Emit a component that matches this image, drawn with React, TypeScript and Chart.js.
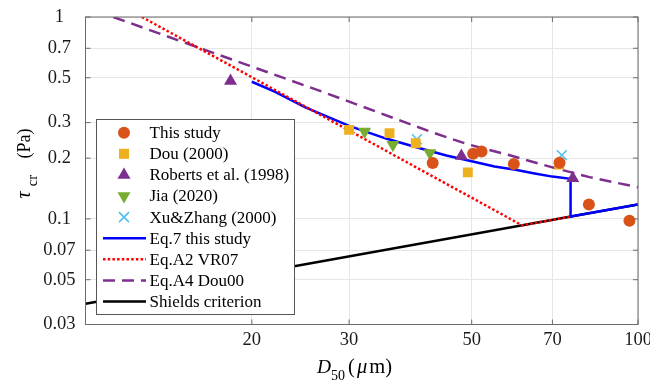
import React, { useEffect, useRef } from "react";
import { Chart, registerables } from "chart.js";

Chart.register(...registerables);

// ---------------- data ----------------
const xTicks = [20, 30, 50, 70, 100];
const yTicks = [0.03, 0.05, 0.07, 0.1, 0.2, 0.3, 0.5, 0.7, 1];

const thisStudyD = [42.5, 50.3, 52.1, 59.6, 72.1, 81.5, 96.5];
const thisStudyTau = [0.189, 0.21, 0.216, 0.187, 0.19, 0.118, 0.098];

const douD = [30.0, 35.5, 39.6, 49.2, 72.0];
const douTau = [0.276, 0.266, 0.237, 0.17, 0.186];

const robertsD = [18.3, 47.9, 76.2];
const robertsTau = [0.482, 0.205, 0.159];

const jiaD = [32.0, 36.0, 42.0];
const jiaTau = [0.271, 0.233, 0.212];

const xuD = [39.8, 72.8];
const xuTau = [0.248, 0.207];

const eq7D = [20, 22, 25, 30, 35, 40, 45, 50, 55, 60, 65, 70, 75.5, 75.5, 100];
const eq7Tau = [0.478, 0.427, 0.357, 0.289, 0.25, 0.225, 0.206, 0.193, 0.182, 0.175, 0.168, 0.162, 0.158, 0.1027, 0.118];

const vr07D = [12.65, 61.7, 75.5];
const vr07Tau = [1.0, 0.0929, 0.1027];

const dou00D = [11.23, 15.24, 27.31, 42.5, 49.0, 58.8, 69.2, 81.7, 100];
const dou00Tau = [1.0, 0.741, 0.419, 0.268, 0.235, 0.206, 0.1815, 0.161, 0.1435];

const shieldsD = [10, 100];
const shieldsTau = [0.038, 0.118];

const legendLabels = [
  "This study",
  "Dou (2000)",
  "Roberts et al. (1998)",
  "Jia (2020)",
  "Xu&Zhang (2000)",
  "Eq.7 this study",
  "Eq.A2 VR07",
  "Eq.A4 Dou00",
  "Shields criterion",
];

// ---------------- styles ----------------
const FONT = '"Liberation Serif", "Times New Roman", serif';
const ORANGE = "#D95319";
const YELLOW = "#EDB120";
const PURPLE = "#7E2F8E";
const GREEN = "#77AC30";
const CYAN = "#4DBEEE";
const BLUE = "#0000FF";
const RED = "#FF0000";
const BLACK = "#000000";

function pts(xs: number[], ys: number[]) {
  return xs.map((x, i) => ({ x, y: ys[i] }));
}

function fnt(size: number, italic = false) {
  return `${italic ? "italic " : ""}${size}px ${FONT}`;
}

// draw a text piece at absolute position along a baseline
function put(ctx: CanvasRenderingContext2D, t: string, x: number, y: number, size: number, italic = false, align: CanvasTextAlign = "left") {
  ctx.font = fnt(size, italic);
  ctx.textAlign = align;
  ctx.textBaseline = "alphabetic";
  ctx.fillText(t, x, y);
  return ctx.measureText(t).width;
}

function drawMarker(ctx: CanvasRenderingContext2D, kind: string, x: number, y: number, color: string) {
  ctx.save();
  ctx.fillStyle = color;
  ctx.strokeStyle = color;
  ctx.beginPath();
  if (kind === "circle") {
    ctx.arc(x, y, 6, 0, Math.PI * 2);
    ctx.fill();
  } else if (kind === "rect") {
    ctx.fillRect(x - 5, y - 5, 10, 10);
  } else if (kind === "triangle") {
    const r = 7.5;
    ctx.moveTo(x, y - r);
    ctx.lineTo(x + 0.866 * r, y + 0.5 * r);
    ctx.lineTo(x - 0.866 * r, y + 0.5 * r);
    ctx.closePath();
    ctx.fill();
  } else if (kind === "triangleDown") {
    const r = 7.5;
    ctx.moveTo(x, y + r);
    ctx.lineTo(x + 0.866 * r, y - 0.5 * r);
    ctx.lineTo(x - 0.866 * r, y - 0.5 * r);
    ctx.closePath();
    ctx.fill();
  } else if (kind === "cross") {
    ctx.lineWidth = 1.5;
    ctx.moveTo(x - 5, y - 5);
    ctx.lineTo(x + 5, y + 5);
    ctx.moveTo(x + 5, y - 5);
    ctx.lineTo(x - 5, y + 5);
    ctx.stroke();
  }
  ctx.restore();
}

const decorPlugin = {
  id: "decor",
  afterDraw(chart: any) {
    const { ctx, chartArea: a, scales } = chart;
    ctx.save();
    // frame
    ctx.strokeStyle = "#6b6b6b";
    ctx.lineWidth = 1;
    ctx.strokeRect(a.left, a.top, a.right - a.left, a.bottom - a.top);
    // inside ticks
    const tl = 5;
    ctx.beginPath();
    xTicks.forEach((v) => {
      const px = scales.x.getPixelForValue(v);
      ctx.moveTo(px, a.bottom);
      ctx.lineTo(px, a.bottom - tl);
      ctx.moveTo(px, a.top);
      ctx.lineTo(px, a.top + tl);
    });
    yTicks.forEach((v) => {
      const py = scales.y.getPixelForValue(v);
      ctx.moveTo(a.left, py);
      ctx.lineTo(a.left + tl, py);
      ctx.moveTo(a.right, py);
      ctx.lineTo(a.right - tl, py);
    });
    ctx.stroke();

    // x axis title: D_50 (μm)
    ctx.fillStyle = "#000";
    let x = 317;
    x += put(ctx, "D", x, 373, 19.5, true);
    x += put(ctx, "50", x, 380, 14);
    x = Math.max(x + 3, 346);
    x += put(ctx, "(", x, 373, 20.5);
    x += 2;
    x += put(ctx, "μ", x, 373, 20.5, true);
    x += 2;
    x += put(ctx, "m", x, 373, 20.5);
    put(ctx, ")", x, 373, 20.5);

    // y axis title: τ_cr (Pa), rotated
    ctx.save();
    ctx.rotate(-Math.PI / 2);
    // local (u, v) -> page (v, -u)
    put(ctx, "τ", -195, 30, 20, true, "center");
    put(ctx, "cr", -180.5, 37, 14.5, false, "center");
    put(ctx, "(Pa)", -143.5, 30, 18, false, "center");
    ctx.restore();

    // legend
    const lx = 96, ly = 119, lw = 198, lh = 195;
    ctx.fillStyle = "#fff";
    ctx.fillRect(lx, ly, lw, lh);
    ctx.strokeStyle = "#555";
    ctx.lineWidth = 1;
    ctx.strokeRect(lx + 0.5, ly + 0.5, lw, lh);
    const row0 = 132.7, step = 21.1;
    chart.data.datasets.forEach((ds: any) => {
      const idx = legendLabels.indexOf(ds.label);
      if (idx < 0) return;
      const y = row0 + idx * step;
      if (ds.showLine) {
        ctx.save();
        ctx.strokeStyle = ds.borderColor;
        ctx.lineWidth = ds.borderWidth;
        ctx.setLineDash(ds.borderDash || []);
        ctx.beginPath();
        ctx.moveTo(103, y);
        ctx.lineTo(146, y);
        ctx.stroke();
        ctx.restore();
      } else {
        drawMarker(ctx, ds.legendKind, 124, y, ds.pointBackgroundColor === "transparent" ? ds.pointBorderColor : ds.pointBackgroundColor);
      }
      ctx.fillStyle = "#000";
      ctx.font = fnt(17);
      ctx.textAlign = "left";
      ctx.textBaseline = "middle";
      ctx.fillText(ds.label, 149.5, y + 1);
    });
    ctx.restore();
  },
};

export default function App() {
  const ref = useRef<HTMLCanvasElement>(null);

  useEffect(() => {
    document.body.style.margin = "0";
    const markerDs = (label: string, xs: number[], ys: number[], style: string, kind: string, color: string, radius: number, order: number, extra: any = {}) => ({
      label,
      data: pts(xs, ys),
      showLine: false,
      pointStyle: style,
      pointRadius: radius,
      pointHoverRadius: radius,
      pointBackgroundColor: color,
      pointBorderColor: color,
      pointBorderWidth: 0,
      order,
      legendKind: kind,
      ...extra,
    });
    const lineDs = (label: string, xs: number[], ys: number[], color: string, dash: number[], order: number) => ({
      label,
      data: pts(xs, ys),
      showLine: true,
      borderColor: color,
      backgroundColor: color,
      borderWidth: 2.5,
      borderDash: dash,
      borderCapStyle: "butt",
      pointRadius: 0,
      pointHoverRadius: 0,
      fill: false,
      tension: 0,
      order,
    });

    const chart = new Chart(ref.current!, {
      type: "scatter",
      data: {
        datasets: [
          markerDs(legendLabels[0], thisStudyD, thisStudyTau, "circle", "circle", ORANGE, 6, 0),
          markerDs(legendLabels[1], douD, douTau, "rect", "rect", YELLOW, 7, 3),
          markerDs(legendLabels[2], robertsD, robertsTau, "triangle", "triangle", PURPLE, 7.5, 2),
          markerDs(legendLabels[3], jiaD, jiaTau, "triangle", "triangleDown", GREEN, 7.5, 1, { pointRotation: 180 }),
          markerDs(legendLabels[4], xuD, xuTau, "crossRot", "cross", CYAN, 7, 4, { pointBorderWidth: 1.5, pointBackgroundColor: "transparent" }),
          lineDs(legendLabels[5], eq7D, eq7Tau, BLUE, [], 6),
          lineDs(legendLabels[6], vr07D, vr07Tau, RED, [2.5, 2.2], 5),
          lineDs(legendLabels[7], dou00D, dou00Tau, PURPLE, [12, 7], 7),
          lineDs(legendLabels[8], shieldsD, shieldsTau, BLACK, [], 8),
        ] as any,
      },
      options: {
        animation: false,
        responsive: false,
        events: [],
        layout: { padding: { top: 17, right: 12, left: 0, bottom: 0 } },
        plugins: {
          legend: { display: false },
          tooltip: { enabled: false },
          title: { display: false },
        },
        scales: {
          x: {
            type: "logarithmic",
            min: 10,
            max: 100,
            afterBuildTicks: (s: any) => {
              s.ticks = xTicks.map((v) => ({ value: v }));
            },
            afterFit: (s: any) => {
              s.height = 56.5;
              s.paddingLeft = 0;
              s.paddingRight = 0;
            },
            grid: { color: "#e6e6e6", drawTicks: false, lineWidth: 1 },
            border: { display: false },
            ticks: {
              font: { family: FONT, size: 18.5 },
              color: "#1a1a1a",
              padding: 5,
              maxRotation: 0,
              autoSkip: false,
              callback: (v: any) => String(v),
            },
          },
          y: {
            type: "logarithmic",
            min: 0.03,
            max: 1,
            afterBuildTicks: (s: any) => {
              s.ticks = yTicks.map((v) => ({ value: v }));
            },
            afterFit: (s: any) => {
              s.width = 85.5;
              s.paddingTop = 0;
              s.paddingBottom = 0;
            },
            grid: { color: "#e6e6e6", drawTicks: false, lineWidth: 1 },
            border: { display: false },
            ticks: {
              font: { family: FONT, size: 18.5 },
              color: "#1a1a1a",
              padding: 10,
              crossAlign: "center",
              autoSkip: false,
              callback: (v: any) => String(v),
            },
          },
        },
      } as any,
      plugins: [decorPlugin],
    });
    return () => chart.destroy();
  }, []);

  return (
    <div style={{ width: 650, height: 381, background: "#fff" }}>
      <canvas ref={ref} width={650} height={381} style={{ display: "block" }} />
    </div>
  );
}
